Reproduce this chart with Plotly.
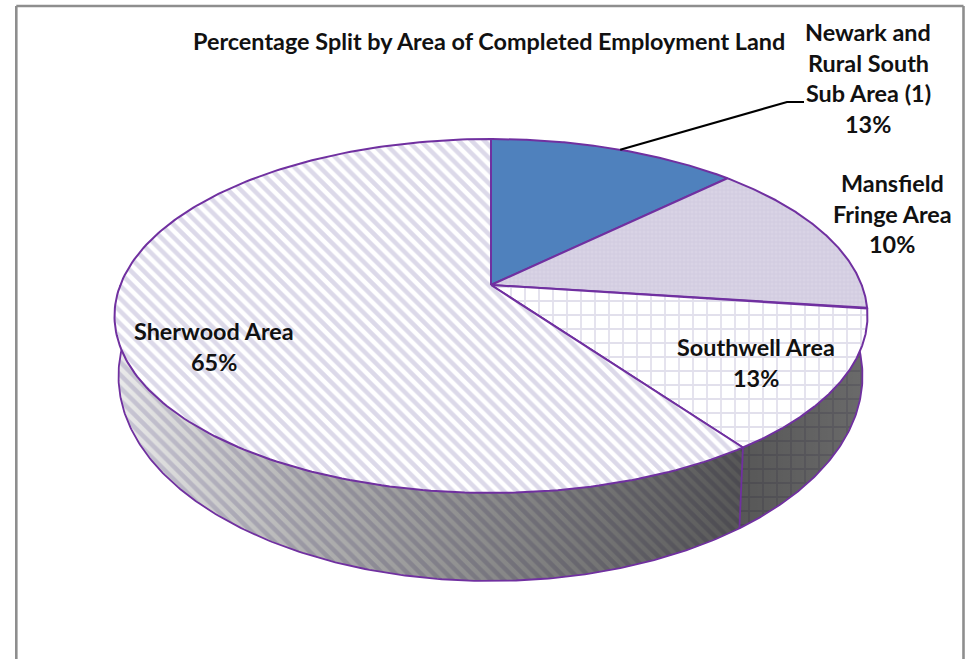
import numpy as np
import plotly.graph_objects as go

# Chart data
categories = ["Newark and Rural South Sub Area (1)", "Mansfield Fringe Area",
              "Southwell Area", "Sherwood Area"]
label_lines = [["Newark and", "Rural South", "Sub Area (1)"],
               ["Mansfield", "Fringe Area"],
               ["Southwell Area"],
               ["Sherwood Area"]]
percent_values = [13, 10, 13, 65]
chart_title = "Percentage Split by Area of Completed Employment Land"

# The 3-D view does not keep slices strictly proportional: it widens the
# right-hand wedge and narrows the large one.
VIEW_STRETCH = [0.975, 1.435, 1.0, 0.92]

# Top face: an ellipse seen in perspective, the slice apex sits above its centre
CX, CY, RX, RY = 490.5, 316.0, 376.5, 177.0
APEX_X, APEX_Y = 491.0, 285.0
# Bottom face of the extruded disc
BX, BY, BRX, BRY = 490.0, 376.0, 372.0, 205.0

BACK = APEX_Y - (CY - RY)
FRONT = (CY + RY) - APEX_Y
P = (FRONT - BACK) / (FRONT + BACK)
B = BACK * (1 + P)
A = RX * np.sqrt(1 - P * P)

PURPLE = "#7030a0"
FONT = "Lato, Carlito, Calibri, sans-serif"


def top_rim(theta_deg):
    """Screen position on the top rim for an angle clockwise from 12 o'clock."""
    t = np.radians(theta_deg)
    sx, sy = np.sin(t), np.cos(t)
    w = 1 + P * sy
    return APEX_X + A * sx / w, APEX_Y - B * sy / w


def bottom_rim(theta_deg):
    x, y = top_rim(theta_deg)
    return BX + BRX * (x - CX) / RX, BY + BRY * (y - CY) / RY


def arc(start, end, n=160):
    return np.linspace(start, end, n)


weights = np.array(percent_values, float) * np.array(VIEW_STRETCH)
edges = np.concatenate([[0.0], np.cumsum(weights) / weights.sum() * 360.0])

patterns = [
    None,
    dict(shape="+", size=4, solidity=0.35, fgcolor="#c6bed8", bgcolor="#d9d3e5"),
    dict(shape="+", size=14, solidity=0.24, fgcolor="#c6c1da", bgcolor="#ffffff"),
    dict(shape="\\", size=9, solidity=0.5, fgcolor="#b9b4d4", bgcolor="#ffffff"),
]
solid_fill = "#4f81bd"

fig = go.Figure()


def side_wall(start, end, pattern, shade_stops):
    th = arc(start, end)
    tx, ty = top_rim(th)
    bx, by = bottom_rim(th)
    x = np.concatenate([tx, bx[::-1], tx[:1]])
    y = np.concatenate([ty, by[::-1], ty[:1]])
    fig.add_trace(go.Scatter(x=x, y=y, mode="lines", fill="toself",
                             line=dict(width=0), fillcolor="#ffffff",
                             fillpattern=pattern, hoverinfo="skip"))
    fig.add_trace(go.Scatter(x=x, y=y, mode="lines", fill="toself",
                             line=dict(width=0), hoverinfo="skip",
                             fillgradient=dict(type="horizontal", start=shade_stops[0],
                                               stop=shade_stops[1],
                                               colorscale=shade_stops[2])))


# Only the walls facing the viewer are drawn
side_wall(90, edges[3], patterns[2], (740, 870, [[0, "rgba(0,0,0,0.66)"], [1, "rgba(0,0,0,0.58)"]]))
side_wall(edges[3], 270, patterns[3], (114, 745, [[0, "rgba(0,0,0,0.08)"], [0.3, "rgba(0,0,0,0.30)"],
                                                 [0.6, "rgba(0,0,0,0.46)"], [1, "rgba(0,0,0,0.66)"]]))

# Wall outlines
th = arc(90, 270, 300)
bx, by = bottom_rim(th)
fig.add_trace(go.Scatter(x=bx, y=by, mode="lines", line=dict(color=PURPLE, width=1.8), hoverinfo="skip"))
for angle in (90, edges[3], 270):
    tx, ty = top_rim(angle)
    bx, by = bottom_rim(angle)
    fig.add_trace(go.Scatter(x=[tx, bx], y=[ty, by], mode="lines",
                             line=dict(color=PURPLE, width=1.8), hoverinfo="skip"))

# Top face slices
for i, name in enumerate(categories):
    th = arc(edges[i], edges[i + 1], 200)
    rx, ry = top_rim(th)
    x = np.concatenate([[APEX_X], rx, [APEX_X]])
    y = np.concatenate([[APEX_Y], ry, [APEX_Y]])
    kw = dict(fillpattern=patterns[i], fillcolor=patterns[i]["bgcolor"]) if patterns[i] else dict(fillcolor=solid_fill)
    fig.add_trace(go.Scatter(x=x, y=y, mode="lines", fill="toself", name=name,
                             line=dict(color=PURPLE, width=2), hoverinfo="name", **kw))

# Leader line from the first slice to its label
lx, ly = top_rim((edges[0] + edges[1]) / 2 + 1)
fig.add_trace(go.Scatter(x=[lx, 787, 804], y=[ly, 102, 102], mode="lines",
                         line=dict(color="#000000", width=2.2), hoverinfo="skip"))

# Data labels: one annotation per line to keep the wide line spacing
label_centres = [(868, 32), (892, 183), (756, 347), (214, 331)]
LINE_GAP = 30.7
annotations = [dict(x=489, y=41, text=f"<b>{chart_title}</b>", showarrow=False,
                    xref="x", yref="y", font=dict(family=FONT, size=23.4, color="#111111"))]
for lines, value, (lbx, lby) in zip(label_lines, percent_values, label_centres):
    for k, text in enumerate(lines + [f"{value}%"]):
        annotations.append(dict(x=lbx, y=lby + k * LINE_GAP, text=f"<b>{text}</b>", showarrow=False,
                                xref="x", yref="y", font=dict(family=FONT, size=23.4, color="#111111")))

frame = dict(color="#8e8e8e", width=2.6)
shapes = [dict(type="line", xref="x", yref="y", x0=16.3, y0=6, x1=16.3, y1=659, line=frame, layer="above"),
          dict(type="line", xref="x", yref="y", x0=16.3, y0=6, x1=963.5, y1=6, line=frame, layer="above"),
          dict(type="line", xref="x", yref="y", x0=963.5, y0=6, x1=963.5, y1=659, line=frame, layer="above")]

fig.update_layout(
    width=966, height=659, autosize=False, showlegend=False,
    margin=dict(l=0, r=0, t=0, b=0),
    paper_bgcolor="#ffffff", plot_bgcolor="#ffffff",
    xaxis=dict(range=[0, 966], visible=False, fixedrange=True),
    yaxis=dict(range=[659, 0], visible=False, fixedrange=True),
    annotations=annotations, shapes=shapes,
)

fig.write_html("out.html", config=dict(displayModeBar=False))
